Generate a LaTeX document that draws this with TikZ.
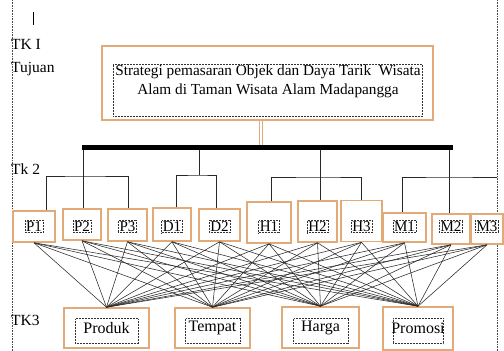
\documentclass[tikz,border=0pt]{standalone}
\usepackage{fontspec}
\setmainfont{Liberation Serif}
\definecolor{ob}{RGB}{226,170,118}
\definecolor{ln}{RGB}{40,40,40}
\begin{document}
\begin{tikzpicture}[x=1pt,y=-1pt,
  obox/.style={draw=ob, line width=1.6pt, fill=white, inner sep=0pt},
  dotbox/.style={draw=black!80, densely dotted, line width=0.5pt, inner sep=1.2pt},
  lbl/.style={anchor=west, font=\fontsize{15.5}{17}\selectfont, inner sep=0pt},
  tree/.style={draw=ln, line width=0.7pt},
  web/.style={draw=ln, line width=0.55pt},
  page/.style={draw=black!70, densely dotted, line width=0.6pt}]
\useasboundingbox (0,0) rectangle (504,351);
% page borders and cursor
\coordinate (bl0) at (12,0); \coordinate (bl1) at (12,351);
\coordinate (br0) at (497,0); \coordinate (br1) at (497,351);
\draw[page] (bl0) -- (bl1);
\draw[page] (br0) -- (br1);
\coordinate (c0) at (33,12); \coordinate (c1) at (33,25);
\draw[line width=1pt] (c0) -- (c1);
% labels
\node[lbl] (tk1) at (11,44) {TK I};
\node[lbl] (tuj) at (11,69) {Tujuan};
\node[lbl] (tk2) at (11,169) {Tk 2};
\node[lbl] (tk3) at (11,320) {TK3};
% top box
\node[obox, minimum width=331, minimum height=74] (top) at (267.5,83) {};
\node[dotbox, minimum width=309, minimum height=52, inner sep=0pt] (topin) at (267.5,90) {};
\node[align=center, font=\fontsize{15.3}{18.5}\selectfont, inner sep=0pt] (toptext) at (268,81.5)
  {Strategi pemasaran Objek dan Daya Tarik\ \ Wisata\\Alam di Taman Wisata Alam Madapangga};
% bar
\node[fill=black, minimum width=371, minimum height=5, inner sep=0pt] (bar) at (267.5,147.5) {};
\draw[ob, double=white, double distance=1.6pt, line width=0.9pt] (top.south -| 261,0) -- (bar.north -| 261,0);
% second level boxes
\foreach \n/\x/\y/\w/\h in {P1/34/226.5/42/31, P2/82/224.5/38/31, P3/127.5/225/39/32,
  D1/172/224.5/38/33, D2/219.5/225/41/32, H1/269/222.5/44/41, H2/317.5/221.5/39/41,
  H3/361.5/221/41/41, M1/404.5/227.5/43/29, M2/451/229/38/30, M3/487/229/32/30}{
  \node[obox, minimum width=\w, minimum height=\h] (\n) at (\x,\y) {};
  \node[dotbox, font=\fontsize{15}{17}\selectfont] (t\n) at (\x,226.5) {\n};
}
% tree connectors
\coordinate (jP) at (83,176); \coordinate (jD) at (199,175);
\coordinate (jH) at (320,177); \coordinate (jM) at (449,177);
\draw[tree] (bar.south -| jP) -- (P2.north -| jP);
\draw[tree] (P1.north -| 46,0) |- (jP) -| (P3.north -| 128,0);
\draw[tree] (bar.south -| jD) -- (jD);
\draw[tree] (D1.north -| 176,0) |- (jD) -| (D2.north -| 216,0);
\draw[tree] (bar.south -| jH) -- (H2.north -| jH);
\draw[tree] (H1.north -| 271,0) |- (jH) -| (H3.north -| 361,0);
\draw[tree] (bar.south -| jM) -- (M2.north -| jM);
\draw[tree] (M1.north -| 402,0) |- (jM) -- (jM -| 497,0);
% bottom boxes
\foreach \n/\x/\y/\w/\h/\iw in {Produk/106.5/328/85/40/63, Tempat/212.5/328/75/40/55,
  Harga/320.5/327.5/77/41/55, Promosi/418/328.5/70/43/50}{
  \node[obox, minimum width=\w, minimum height=\h] (\n) at (\x,\y) {};
  \node[dotbox, minimum width=\iw, minimum height=25, inner sep=0pt] (i\n) at (\x,331) {};
  \node[font=\fontsize{16}{18}\selectfont, inner sep=0pt] (t\n) at (\x,328) {\n};
}
% complete web
\foreach \a in {P1,P2,P3,D1,D2,H1,H2,H3,M1,M2,M3}{
  \foreach \b in {Produk,Tempat,Harga,Promosi}{
    \draw[web] (\a.south) -- (\b.north);
  }
}
\end{tikzpicture}
\end{document}
